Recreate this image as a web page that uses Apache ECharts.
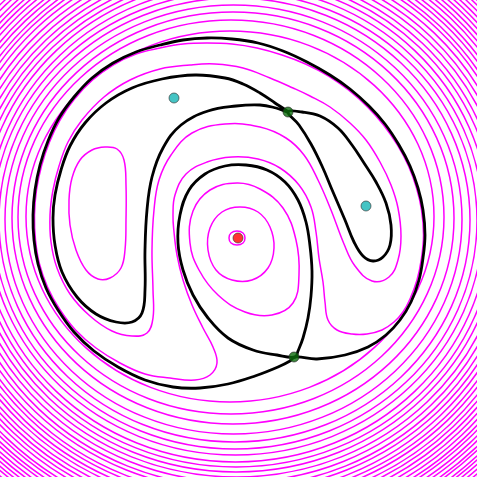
<!DOCTYPE html>
<html><head><meta charset="utf-8">
<script src="https://cdn.jsdelivr.net/npm/echarts@6/dist/echarts.min.js"></script>
<style>html,body{margin:0;padding:0;background:#fff}#c{width:477px;height:477px}</style>
</head><body><div id="c"></div>
<script>
// Outer level rings: crossing positions (left x, right x, top y, bottom y)
const ringLeft   = [26,18,12,5,-1,-7,-12,-18,-23,-28,-33,-38,-43,-48,-53,-57,-62,-66,-71,-75,-79,-83,-88,-92,-96,-100,-104,-108,-111,-115,-119,-123,-126,-130,-134,-137];
const ringRight  = [434,444,454,462,470,477,483,489,495,500,506,511,516,521,525,530,534,539,543,547,551,555,559,563,567,571,575,578,582,585,589,592,596,599,603,606];
const ringTop    = [31,20,12,5,-2,-8,-14,-20,-25,-30,-35,-40,-45,-50,-54,-58,-62,-66,-70,-74,-78,-82,-86,-90,-94,-97,-101,-104,-108,-111,-115,-118,-121,-125,-128,-131];
const ringBottom = [402,414,424,434,442,449,455,462,467,472,477,482,487,491,496,500,504,508,512,516,520,524,528,531,535,538,542,545,549,552,555,559,562,565,568,571];

// Separatrices (black)
const outerSeparatrix = [[295,357],[317,359],[345,355],[368,347],[386,335],[400,320],[411,302],[419,280],[423,258],[425,235],[423,210],[418,188],[410,166],[399,145],[385,124],[369,106],[350,89],[330,75],[307,62],[283,51],[258,43],[232,39],[207,38],[183,40],[160,45],[136,52],[113,63],[92,78],[74,97],[59,118],[48,141],[40,165],[35,190],[33,215],[34,240],[38,264],[46,288],[58,310],[74,332],[94,351],[118,367],[145,380],[173,387],[200,388],[228,384],[255,376],[278,367],[290,361]];
const leftLobe = [[288,112],[275,103],[260,93],[243,84],[225,78],[195,75],[162,79],[132,88],[106,103],[85,123],[70,146],[61,170],[55,195],[53,218],[55,245],[62,272],[77,297],[96,314],[116,322],[132,322],[142,313],[145,290],[145,250],[147,210],[152,177],[163,148],[181,125],[208,111],[236,106],[260,105],[276,108]];
const rightLobe = [[288,112],[302,112],[320,116],[338,128],[352,145],[364,163],[376,182],[386,203],[391,225],[390,245],[383,257],[373,261],[363,256],[354,242],[345,220],[333,192],[322,166],[311,144],[299,125]];
const centerLoop = [[295,357],[277,355],[253,350],[228,338],[208,318],[193,295],[183,270],[178,243],[180,215],[189,190],[205,174],[225,166],[246,165],[267,170],[285,182],[298,200],[306,222],[310,246],[312,271],[311,296],[308,318],[303,338],[298,351]];

// Inner level lines (magenta)
const levelA = [[293,88],[270,78],[243,68],[215,64],[190,65],[160,69],[130,80],[104,97],[82,120],[68,142],[59,166],[53,190],[50,215],[51,242],[57,268],[70,294],[90,316],[112,331],[132,336],[147,333],[153,318],[153,290],[152,250],[154,210],[159,180],[171,155],[192,133],[225,124],[260,127],[286,138],[304,155],[318,180],[331,210],[344,244],[355,266],[372,281],[389,277],[398,260],[401,236],[398,208],[391,185],[380,162],[366,140],[350,123],[330,107],[310,96]];
const levelB = [[325,302],[328,320],[337,330],[352,334],[367,334],[382,330],[394,322],[403,312],[410,299],[417,280],[421.5,258],[423.5,235],[421.5,210],[416.5,188],[408.5,166],[397.5,145],[383.5,125],[367.5,107],[348.5,90],[328.5,76],[305.5,64],[282,55],[257,48],[232,44],[207,43],[183,44],[160,48],[136,54],[113,65],[92.5,80],[74.5,99],[60,120],[49.5,142],[41.5,166],[36.5,190],[34.5,215],[35.5,240],[39.5,264],[47.5,287],[59.5,309],[75.5,330],[96,348],[120,363],[145,374],[170,378],[195,380],[210,375],[217,363],[213,347],[203,328],[192,305],[183,280],[177,255],[174,232],[173,215],[175,195],[186,174],[207,162],[232,157],[258,159],[280,168],[299,185],[311,207],[316,232],[319,258],[323,282]];
const island = [[105,147],[117,149],[124,160],[126,185],[126,220],[125,250],[121,268],[110,278],[98,279],[86,270],[76,250],[70,225],[69,200],[72,178],[80,160],[92,150]];
const coreRing3 = [[237,183],[260,189],[283,208],[296,240],[299,275],[293,303],[272,315],[245,312],[218,295],[199,270],[190,243],[193,211],[210,190]];
const coreRing2 = [[240,207],[258,212],[270,227],[274,248],[268,268],[252,280],[232,280],[216,270],[208,250],[210,228],[222,212]];
const coreRing1 = [[237,231],[243,233],[245,238],[243,243],[237,245],[231,243],[229,238],[231,233]];

// Critical points
const minimumPts = [[238,238]];
const extremumPts = [[174,98],[366,206]];
const saddlePts = [[288,112],[294,357]];

const blackCurves = [outerSeparatrix, leftLobe, rightLobe, centerLoop];
const magentaCurves = [levelA, levelB, island, coreRing3, coreRing2, coreRing1];

function curveSeries(list, color, width, z) {
  return {
    type: 'custom', coordinateSystem: 'cartesian2d', z: z, silent: true,
    data: list.map(c => c[0]),
    renderItem: function (params, api) {
      const pts = list[params.dataIndex].map(p => api.coord(p));
      return { type: 'polygon', shape: { points: pts, smooth: 0.4 },
               style: { fill: 'none', stroke: color, lineWidth: width } };
    }
  };
}

const ringData = ringLeft.map((l, i) => [l, ringRight[i], ringTop[i], ringBottom[i]]);

const option = {
  animation: false,
  backgroundColor: '#ffffff',
  grid: { left: 0, right: 0, top: 0, bottom: 0 },
  xAxis: { type: 'value', min: 0, max: 477, show: false },
  yAxis: { type: 'value', min: 0, max: 477, inverse: true, show: false },
  series: [
    {
      type: 'custom', coordinateSystem: 'cartesian2d', z: 1, silent: true,
      data: ringData,
      renderItem: function (params, api) {
        const p1 = api.coord([api.value(0), api.value(2)]);
        const p2 = api.coord([api.value(1), api.value(3)]);
        return { type: 'ellipse',
                 shape: { cx: (p1[0] + p2[0]) / 2, cy: (p1[1] + p2[1]) / 2,
                          rx: Math.abs(p2[0] - p1[0]) / 2, ry: Math.abs(p2[1] - p1[1]) / 2 },
                 style: { fill: 'none', stroke: '#ff00ff', lineWidth: 1.5 } };
      }
    },
    curveSeries(magentaCurves, '#ff00ff', 1.5, 2),
    curveSeries(blackCurves, '#000000', 2.8, 3),
    { type: 'scatter', data: minimumPts, symbolSize: 10, z: 5,
      itemStyle: { color: '#ff0000', borderColor: '#333', borderWidth: 0.8 } },
    { type: 'scatter', data: extremumPts, symbolSize: 10, z: 5,
      itemStyle: { color: '#17b5b5', borderColor: '#333', borderWidth: 0.8 } },
    { type: 'scatter', data: saddlePts, symbolSize: 10, z: 5,
      itemStyle: { color: '#0b6b0b', borderColor: '#222', borderWidth: 0.8 } }
  ]
};
const chart = echarts.init(document.getElementById('c'));
chart.setOption(option);
</script>
</body></html>
